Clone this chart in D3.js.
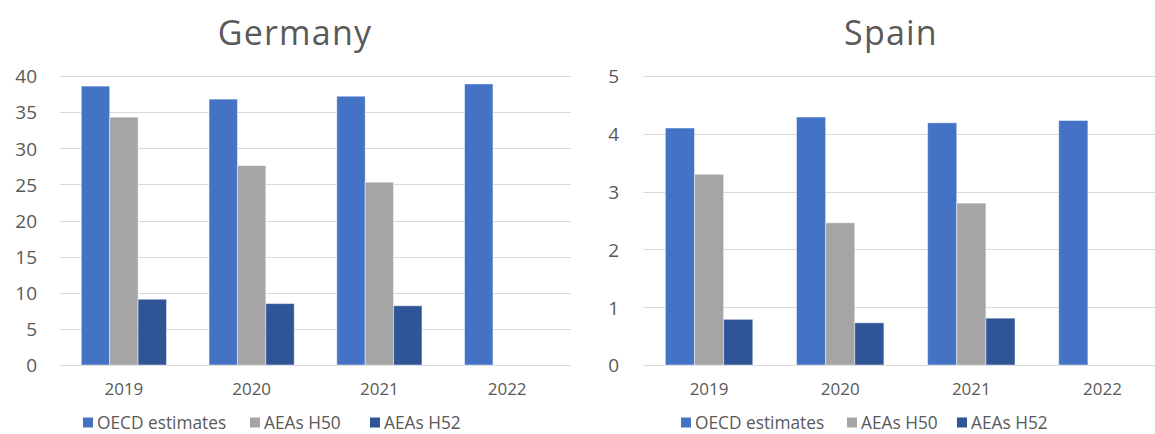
<!DOCTYPE html>
<html>
<head>
<meta charset="utf-8">
<script src="https://cdn.jsdelivr.net/npm/d3@7"></script>
<style>
  html, body { margin: 0; padding: 0; background: #fff; }
  svg { display: block; }
  text { font-family: "Open Sans", "Noto Sans", sans-serif; fill: #595959; }
</style>
</head>
<body>
<svg id="chart" width="1155" height="434"></svg>
<script>
// Years on the category axis
const years = ["2019", "2020", "2021", "2022"];
// Series names, in legend order
const seriesNames = ["OECD estimates", "AEAs H50", "AEAs H52"];

// Germany
const germanyOECD = [38.6, 36.8, 37.2, 38.9];
const germanyH50 = [34.3, 27.6, 25.3, null];
const germanyH52 = [9.1, 8.5, 8.2, null];
const germanyTicks = [0, 5, 10, 15, 20, 25, 30, 35, 40];

// Spain
const spainOECD = [4.1, 4.29, 4.19, 4.23];
const spainH50 = [3.3, 2.46, 2.8, null];
const spainH52 = [0.79, 0.73, 0.81, null];
const spainTicks = [0, 1, 2, 3, 4, 5];

const colors = ["#4472C4", "#A5A5A5", "#2F5597"];

const svg = d3.select("#chart");

function drawPanel(cfg) {
  const g = svg.append("g");
  const rows = years.map((yr, i) => ({
    year: yr,
    values: cfg.series.map((s, k) => ({ key: seriesNames[k], value: s[i], k }))
  }));

  const x0 = d3.scaleBand().domain(years).range([cfg.left, cfg.right]).padding(0);
  const step = x0.bandwidth();
  const groupW = step * (3 / 4.5);
  const x1 = d3.scaleBand().domain(seriesNames)
    .range([(step - groupW) / 2, (step + groupW) / 2]).padding(0);
  const y = d3.scaleLinear().domain([0, cfg.max]).range([365, 76]);

  // gridlines
  g.append("g").selectAll("line").data(cfg.ticks).join("line")
    .attr("x1", cfg.left).attr("x2", cfg.right)
    .attr("y1", d => Math.round(y(d)) + 0.5).attr("y2", d => Math.round(y(d)) + 0.5)
    .attr("stroke", "#D9D9D9").attr("stroke-width", 1);

  // value axis labels
  const yAxis = d3.axisLeft(y).tickValues(cfg.ticks).tickFormat(d3.format("d"))
    .tickSize(0).tickPadding(0);
  const ya = g.append("g").attr("transform", `translate(${cfg.labelRight},0)`).call(yAxis);
  ya.select(".domain").remove();
  ya.selectAll("text").attr("font-size", 19).attr("fill", "#595959")
    .style("font-family", '"Open Sans", sans-serif').attr("dy", "0.36em");

  // bars
  g.append("g").selectAll("g").data(rows).join("g")
    .attr("transform", d => `translate(${x0(d.year)},0)`)
    .selectAll("rect").data(d => d.values.filter(v => v.value != null)).join("rect")
    .attr("x", d => x1(d.key))
    .attr("width", x1.bandwidth())
    .attr("y", d => y(d.value))
    .attr("height", d => y(0) - y(d.value))
    .attr("fill", d => colors[d.k])
    .attr("stroke", "rgba(255,255,255,0.45)")
    .attr("stroke-width", 1);

  // category axis labels
  const xAxis = d3.axisBottom(x0).tickSize(0).tickPadding(0);
  const xa = g.append("g").attr("transform", "translate(0,383)").call(xAxis);
  xa.select(".domain").remove();
  xa.selectAll("text").attr("font-size", 17).attr("fill", "#595959")
    .style("font-family", '"Open Sans", sans-serif').attr("dy", "0.71em");

  // title
  g.append("text").attr("x", cfg.titleX).attr("y", 45)
    .attr("text-anchor", "middle").attr("font-size", 34)
    .style("letter-spacing", "1.2px")
    .text(cfg.title);

  // legend
  const lg = g.append("g").attr("transform", `translate(0,428.5)`);
  cfg.legendX.forEach((lx, k) => {
    lg.append("rect").attr("x", lx).attr("y", -11).attr("width", 10).attr("height", 10)
      .attr("fill", colors[k]);
    lg.append("text").attr("x", lx + 14).attr("y", 0).attr("font-size", 17.3)
      .text(seriesNames[k]);
  });
}

drawPanel({
  title: "Germany", titleX: 295,
  series: [germanyOECD, germanyH50, germanyH52],
  ticks: germanyTicks, max: 40,
  left: 60, right: 571, labelRight: 37,
  legendX: [83, 250, 370]
});

drawPanel({
  title: "Spain", titleX: 891,
  series: [spainOECD, spainH50, spainH52],
  ticks: spainTicks, max: 5,
  left: 643.5, right: 1168, labelRight: 619,
  legendX: [681, 847, 957]
});
</script>
</body>
</html>
